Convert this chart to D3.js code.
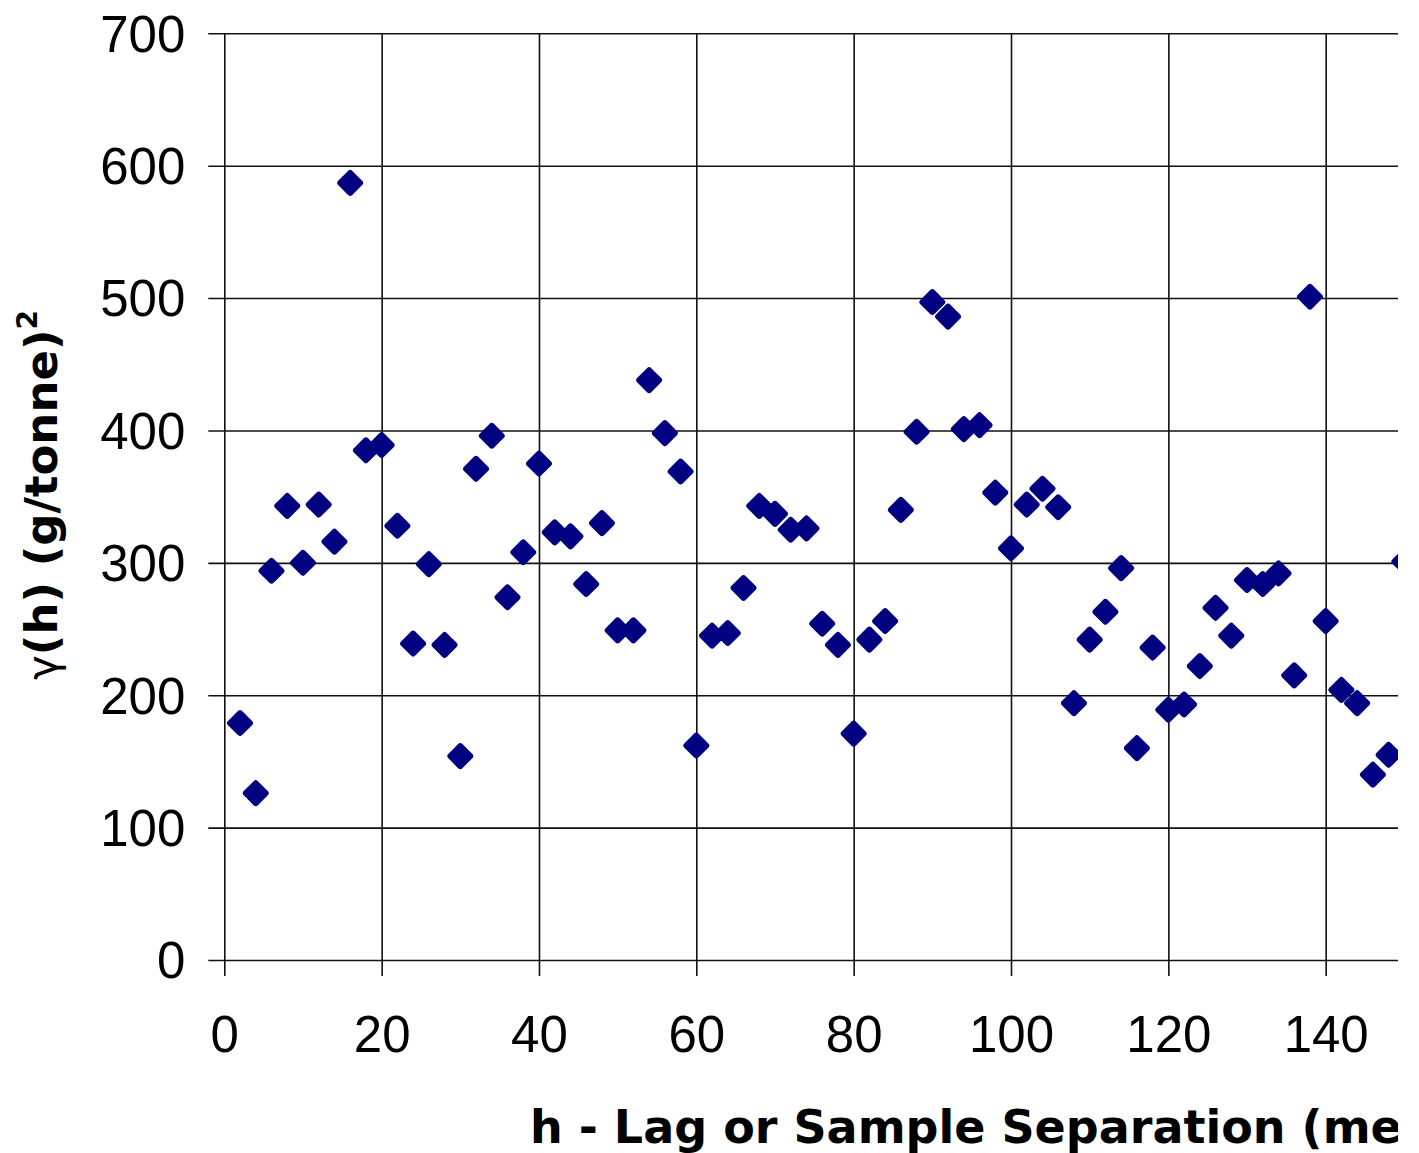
<!DOCTYPE html>
<html>
<head>
<meta charset="utf-8">
<script src="https://cdn.jsdelivr.net/npm/d3@7"></script>
<style>
  body { margin: 0; background: #fff; }
  svg { display: block; }
</style>
</head>
<body>
<svg id="chart" width="1419" height="1153"></svg>
<script>

//--------------------------------data---------------------------------

//Lag distance h, every 2 units
const lags = [2, 4, 6, 8, 10, 12, 14, 16, 18, 20, 22, 24, 26, 28, 30, 32, 34, 36, 38, 40,
  42, 44, 46, 48, 50, 52, 54, 56, 58, 60, 62, 64, 66, 68, 70, 72, 74, 76, 78, 80,
  82, 84, 86, 88, 90, 92, 94, 96, 98, 100, 102, 104, 106, 108, 110, 112, 114, 116, 118, 120,
  122, 124, 126, 128, 130, 132, 134, 136, 138, 140, 142, 144, 146, 148, 150];

//Semivariance gamma(h)
const gammaValues = [179, 126, 294, 343, 300, 344, 316, 587, 385, 389, 328, 239, 299, 238, 154, 371, 396, 274, 308, 375,
  323, 320, 284, 330, 249, 249, 438, 398, 369, 162, 245, 247, 281, 343, 337, 325, 326, 254, 238, 171,
  242, 256, 340, 399, 497, 486, 401, 404, 353, 311, 344, 356, 342, 194, 242, 263, 296, 160, 236, 189,
  193, 222, 266, 245, 287, 284, 292, 215, 501, 256, 204, 194, 140, 155, 301];

const xTicks = [0, 20, 40, 60, 80, 100, 120, 140];
const yTicks = [0, 100, 200, 300, 400, 500, 600, 700];

const xTitle = "h - Lag or Sample Separation (metres)";
const yTitleMain = "(h) (g/tonne)";

//--------------------------------layout---------------------------------

let svg = d3.select("#chart");
let visibleWidth = 1398; //the picture is cut on the right

let x = d3.scaleLinear().domain([0, 160]).range([224.3, 224.3 + 160 * 7.867]);
let y = d3.scaleLinear().domain([0, 700]).range([960, 33.3]);

svg.append("defs").append("clipPath")
    .attr("id", "cut")
  .append("rect")
    .attr("x", 0).attr("y", 0)
    .attr("width", visibleWidth).attr("height", 1153);

let root = svg.append("g").attr("clip-path", "url(#cut)");

let tickFont = "'Liberation Sans', Arial, sans-serif";
let titleFont = "'DejaVu Sans', sans-serif";

//Horizontal grid + y axis (ticks stick out 16px on the left)
let yAxis = d3.axisLeft(y)
    .tickValues(yTicks)
    .tickSize(-(x(160) - x(0)) - 16)
    .tickPadding(23)
    .tickFormat(d3.format("d"));

root.append("g")
    .attr("transform", `translate(${x(0) - 16},0)`)
    .call(yAxis)
    .call(g => g.select(".domain").remove())
    .call(g => g.selectAll(".tick line").attr("stroke", "#111").attr("stroke-width", 1.6))
    .call(g => g.selectAll(".tick text")
        .attr("font-family", tickFont)
        .attr("font-size", 51)
        .attr("fill", "#000")
        .attr("dy", "0.35em"));

//Vertical grid + x axis (ticks stick out 16px below)
let xAxis = d3.axisBottom(x)
    .tickValues(xTicks)
    .tickSize(-(y(0) - y(700)) - 16)
    .tickPadding(0)
    .tickFormat(d3.format("d"));

root.append("g")
    .attr("transform", `translate(0,${y(0) + 16})`)
    .call(xAxis)
    .call(g => g.select(".domain").remove())
    .call(g => g.selectAll(".tick line").attr("stroke", "#111").attr("stroke-width", 1.6))
    .call(g => g.selectAll(".tick text")
        .attr("font-family", tickFont)
        .attr("font-size", 51)
        .attr("fill", "#000")
        .attr("y", 76)
        .attr("dy", 0));

//Diamond markers, navy with softened corners
let points = lags.map((h, i) => ({h: h, g: gammaValues[i]}));

root.append("g")
  .selectAll("rect")
  .data(points)
  .enter().append("rect")
    .attr("x", -10).attr("y", -10)
    .attr("width", 20).attr("height", 20)
    .attr("rx", 3).attr("ry", 3)
    .attr("transform", d => `translate(${x(d.h)},${y(d.g)}) rotate(45)`)
    .attr("fill", "#000080");

//Axis titles (the x title runs past the cut edge, as in the picture)
root.append("text")
    .attr("x", 530)
    .attr("y", 1143)
    .attr("font-family", titleFont)
    .attr("font-weight", "bold")
    .attr("font-size", 46)
    .attr("fill", "#000")
    .text(xTitle);

let yTitle = root.append("text")
    .attr("transform", "translate(57,495) rotate(-90)")
    .attr("text-anchor", "middle")
    .attr("font-family", titleFont)
    .attr("font-weight", "bold")
    .attr("font-size", 45)
    .attr("fill", "#000");

yTitle.append("tspan").attr("font-weight", "normal").attr("font-size", 42).text("\u03b3");
yTitle.append("tspan").text(yTitleMain);
yTitle.append("tspan").attr("font-size", 28).attr("dy", -20).text("2");

</script>
</body>
</html>
